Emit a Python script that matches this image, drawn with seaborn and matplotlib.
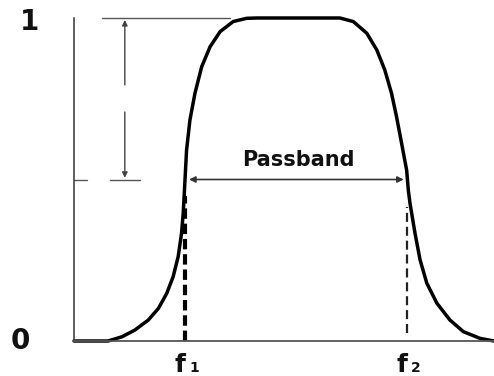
import matplotlib
matplotlib.use('Agg')
import matplotlib.pyplot as plt
import seaborn as sns
import pandas as pd

# Band-pass response (frequency in arbitrary units 0..10)
freq = [0.00, 0.81, 1.14, 1.45, 1.77, 2.01, 2.21, 2.36, 2.48, 2.56, 2.60,
        2.63, 2.68, 2.76, 2.88, 3.04, 3.24, 3.48, 3.79, 4.11, 4.35,
        6.33, 6.65, 6.97, 7.21, 7.40, 7.56, 7.68, 7.80, 7.92, 7.96,
        8.00, 8.12, 8.24, 8.40, 8.64, 8.95, 9.27, 9.67, 10.00]
gain = [0.000, 0.000, 0.013, 0.034, 0.065, 0.101, 0.148, 0.199, 0.261, 0.333, 0.395,
        0.467, 0.591, 0.684, 0.767, 0.849, 0.911, 0.958, 0.989, 0.999, 1.000,
        1.000, 0.989, 0.953, 0.901, 0.839, 0.767, 0.694, 0.612, 0.529, 0.467,
        0.426, 0.333, 0.251, 0.179, 0.117, 0.065, 0.029, 0.008, 0.000]

f1 = 2.64
f2 = 7.93
half_level = 0.5
y_labels = ['0', '1']

df = pd.DataFrame({'freq': freq, 'gain': gain})

sns.set_style('white')
plt.rcParams['font.family'] = ['DejaVu Sans']
plt.rcParams['lines.scale_dashes'] = False

fig = plt.figure(figsize=(4.94, 3.76), dpi=100)
ax = fig.add_axes([74 / 494, 35 / 376, 420 / 494, 323 / 376])

sns.lineplot(data=df, x='freq', y='gain', ax=ax, color='black', linewidth=2.5)
for ln in ax.lines:
    ln.set_clip_on(False)
    ln.set_solid_capstyle('round')
    ln.set_solid_joinstyle('round')

# cutoff markers
ax.plot([f1, f1], [0, 0.45], color='black', lw=3, linestyle=(0, (7.5, 3.5)), clip_on=False)
ax.plot([f2, f2], [0.025, 0.415], color='#222222', lw=1.6, linestyle=(0, (6.5, 3.5)), clip_on=False)

# passband arrow
ax.annotate('', xy=(f1 + 0.10, half_level), xytext=(f2 - 0.08, half_level),
            arrowprops=dict(arrowstyle='<|-|>', color='#333333', lw=1.2,
                            mutation_scale=9, shrinkA=0, shrinkB=0))
ax.text((f1 + f2) / 2 + 0.05, 0.56, 'Passband', ha='center', va='center',
        fontsize=15, fontweight='bold', color='#111111')

# level guides on the left
ax.plot([0.67, 3.71], [1.0, 1.0], color='#555555', lw=1.0, clip_on=False)
ax.plot([0.0, 0.31], [half_level, half_level], color='#555555', lw=1.0)
ax.plot([0.86, 1.57], [half_level, half_level], color='#555555', lw=1.0)
ax.annotate('', xy=(1.21, 0.994), xytext=(1.21, 0.793),
            arrowprops=dict(arrowstyle='-|>', color='#444444', lw=1.0,
                            mutation_scale=8, shrinkA=0, shrinkB=0))
ax.annotate('', xy=(1.21, 0.505), xytext=(1.21, 0.709),
            arrowprops=dict(arrowstyle='-|>', color='#444444', lw=1.0,
                            mutation_scale=8, shrinkA=0, shrinkB=0))

# axis labels drawn as text
ax.text(-1.29, 0.0, y_labels[0], ha='center', va='center', fontsize=20,
        fontweight='bold', color='#111111')
ax.text(-1.05, 0.988, y_labels[1], ha='center', va='center', fontsize=20,
        fontweight='bold', color='#111111')
for fc, sub in [(f1, '1'), (f2, '2')]:
    ax.text(fc - 0.12, -0.096, 'f', ha='center', va='baseline', fontsize=18,
            fontweight='bold', color='#111111')
    ax.text(fc + 0.10, -0.096, sub, ha='left', va='baseline', fontsize=10,
            fontweight='bold', color='#111111')

ax.set_xlim(0, 10)
ax.set_ylim(0, 1)
ax.set_xticks([])
ax.set_yticks([])
ax.set_xlabel('')
ax.set_ylabel('')
sns.despine(ax=ax, top=True, right=True)
ax.spines['left'].set_color('#333333')
ax.spines['left'].set_linewidth(1.1)
ax.spines['bottom'].set_color('#555555')
ax.spines['bottom'].set_linewidth(1.3)

fig.savefig('out.png', dpi=100)
